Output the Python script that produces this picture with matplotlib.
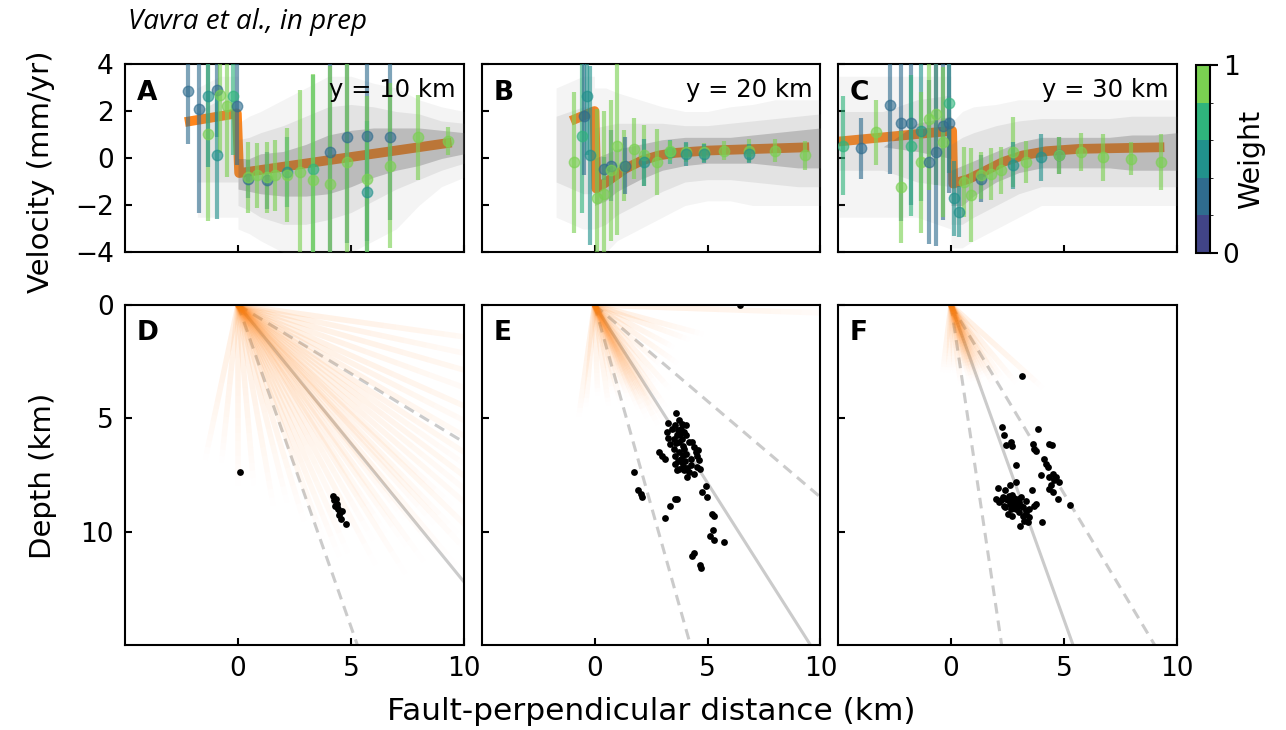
import numpy as np
import matplotlib
matplotlib.use("Agg")
import matplotlib.pyplot as plt
from matplotlib.colors import ListedColormap, BoundaryNorm, to_rgba
from matplotlib.collections import LineCollection
import matplotlib.cm as cm

plt.rcParams['font.family'] = ['DejaVu Sans']

# ---------------- DATA ----------------
profile_labels = ["y = 10 km", "y = 20 km", "y = 30 km"]
top_letters = ["A", "B", "C"]
bottom_letters = ["D", "E", "F"]

# model (best fit) velocity profiles
model_x_A = [-2.35, -0.05, 0.05, 9.45]
model_v_A = [1.55, 1.92, -0.62, 0.68]
model_x_B = [-1.05, 0.0, 0.08, 0.53, 1.37, 2.11, 2.85, 3.58, 5.06, 9.5]
model_v_B = [1.6, 2.02, -1.28, -1.0, -0.43, -0.08, 0.13, 0.24, 0.34, 0.48]
model_x_C = [-5.0, 0.05, 0.1, 0.81, 1.55, 2.29, 3.17, 4.2, 5.68, 9.44]
model_v_C = [0.72, 1.18, -1.07, -0.86, -0.51, -0.15, 0.13, 0.31, 0.41, 0.48]

# binned observations: x, velocity, error, weight
bin_x_A = [-2.20, -1.71, -1.31, -1.31, -0.94, -0.94, -0.80, -0.50, -0.20, -0.06,
           0.46, 0.46, 0.83, 1.27, 1.27, 1.64, 2.15, 2.15, 2.74, 3.33, 3.33,
           4.07, 4.07, 4.81, 4.81, 5.69, 5.69, 5.69, 6.73, 6.73, 7.98, 9.31]
bin_v_A = [2.86, 2.09, 1.04, 2.65, 2.93, 0.13, 2.72, 2.23, 2.65, 2.23,
           -0.86, -0.80, -0.72, -0.93, -0.80, -0.72, -0.58, -0.70, -0.58, -0.44, -0.90,
           0.27, -1.07, 0.90, -0.15, 0.97, -1.42, -0.86, 0.90, -0.30, 0.90, 0.76]
bin_e_A = [2.25, 4.4, 3.7, 3.0, 2.0, 2.7, 2.5, 3.0, 2.5, 2.5,
           0.8, 1.5, 1.4, 1.2, 1.5, 1.5, 1.5, 2.0, 3.5, 4.0, 4.5,
           4.5, 5.0, 4.5, 4.5, 4.5, 3.0, 3.5, 3.5, 3.5, 1.8, 0.6]
bin_w_A = [0.35, 0.35, 0.8, 0.5, 0.35, 0.5, 0.8, 0.8, 0.65, 0.35,
           0.35, 0.8, 0.8, 0.35, 0.8, 0.8, 0.5, 0.8, 0.8, 0.65, 0.8,
           0.35, 0.8, 0.35, 0.8, 0.35, 0.5, 0.8, 0.35, 0.8, 0.8, 0.8]

bin_x_B = [-0.91, -0.55, -0.47, -0.32, -0.18, 0.12, 0.41, 0.41, 0.71, 0.71, 1.0,
           1.30, 1.37, 1.74, 2.18, 2.18, 2.77, 3.36, 3.36, 4.03, 4.03, 4.84, 4.84,
           5.72, 6.83, 6.83, 8.0, 9.33]
bin_v_B = [-0.15, 0.97, 1.81, 2.65, 0.13, -1.70, -0.43, -1.5, -0.30, -0.5, 0.55,
           -0.30, -0.30, 0.41, 0.13, -0.15, -0.15, 0.27, 0.34, 0.27, 0.20, 0.27, 0.20,
           0.34, 0.34, 0.20, 0.34, 0.13]
bin_e_B = [3.0, 3.3, 2.5, 2.5, 3.8, 3.8, 0.5, 3.5, 1.5, 3.0, 3.8,
           1.5, 1.2, 1.3, 1.3, 1.0, 1.4, 0.5, 0.4, 0.4, 0.5, 0.4, 0.4,
           0.4, 0.5, 0.4, 0.5, 0.6]
bin_w_B = [0.8, 0.65, 0.35, 0.5, 0.5, 0.8, 0.35, 0.8, 0.35, 0.8, 0.8,
           0.8, 0.35, 0.8, 0.8, 0.5, 0.8, 0.65, 0.8, 0.8, 0.5, 0.8, 0.5,
           0.8, 0.8, 0.5, 0.8, 0.8]

bin_x_C = [-4.80, -3.98, -3.32, -2.70, -2.21, -2.21, -1.77, -1.77, -1.33, -1.33,
           -0.96, -0.96, -0.66, -0.66, -0.37, -0.37, -0.08, -0.08, 0.15, 0.37,
           0.59, 0.88, 1.33, 1.33, 1.77, 2.21, 2.73, 2.73, 3.32, 3.98, 4.79, 4.79,
           5.75, 6.71, 7.96, 9.29]
bin_v_C = [0.55, 0.43, 1.11, 2.26, 1.53, -1.21, 1.53, 0.55, 1.18, -0.15,
           -0.15, 1.67, 1.88, 0.27, 1.39, 0.69, 2.37, 1.53, -1.70, -2.26,
           -1.0, -1.56, -0.86, -0.72, -0.65, -0.51, 0.27, -0.29, -0.15, 0.06, 0.13, 0.13,
           0.27, 0.06, -0.01, -0.15]
bin_e_C = [2.1, 1.3, 1.4, 2.9, 4.2, 2.4, 3.5, 3.0, 3.0, 3.0,
           3.5, 3.0, 3.0, 4.0, 4.0, 3.2, 3.0, 3.0, 1.6, 1.1,
           1.5, 2.0, 1.0, 1.0, 1.1, 1.0, 1.5, 1.0, 0.9, 1.0, 0.8, 0.8,
           0.8, 1.0, 0.7, 1.2]
bin_w_C = [0.65, 0.35, 0.8, 0.35, 0.35, 0.8, 0.35, 0.65, 0.5, 0.8,
           0.35, 0.8, 0.8, 0.35, 0.35, 0.8, 0.65, 0.35, 0.5, 0.5,
           0.8, 0.8, 0.35, 0.8, 0.8, 0.8, 0.8, 0.5, 0.8, 0.5, 0.35, 0.8,
           0.8, 0.8, 0.8, 0.8]

# raw velocity point cloud, summarised as envelopes (outer / middle / dense core)
cloud_x_A = [-1.8, -0.8, 0.0, 0.0, 0.5, 1, 2, 3, 4, 5, 6, 7, 8, 9, 10]
cloud_olo_A = [-2.5, -2.5, -2.5, -3.0, -3.2, -3.5, -4, -4, -4, -4, -3.5, -3, -2, -1.2, -0.8]
cloud_mlo_A = [-1.0, -1.0, -1.0, -2.0, -2.2, -2.5, -2.8, -2.8, -2.6, -2.3, -1.8, -1.3, -0.9, -0.5, -0.2]
cloud_clo_A = [1.0, 1.0, 1.0, -1.3, -1.4, -1.5, -1.6, -1.6, -1.5, -1.2, -0.8, -0.5, -0.3, 0.0, 0.2]
cloud_chi_A = [1.0, 1.0, 1.0, 0.0, 0.0, 0.2, 0.3, 0.6, 1.0, 1.2, 1.3, 1.3, 1.3, 1.2, 1.1]
cloud_mhi_A = [2.0, 2.5, 2.5, 0.8, 0.9, 1.1, 1.4, 1.8, 2.2, 2.3, 2.2, 2.0, 1.9, 1.6, 1.5]
cloud_ohi_A = [3.0, 3.5, 3.5, 1.5, 1.8, 2.0, 2.5, 3.0, 3.5, 3.5, 3.2, 3.0, 2.5, 2.2, 2.0]

cloud_x_B = [-1.7, -0.5, 0.0, 0.0, 0.5, 1, 2, 3, 4, 5, 6, 7, 8, 9, 10]
cloud_olo_B = [-2.5, -3, -3, -4, -4, -3.5, -3, -2.5, -2, -1.8, -1.8, -2, -2, -2, -2]
cloud_mlo_B = [-1.0, -1.5, -1.5, -3.0, -2.8, -2.4, -1.9, -1.4, -1.0, -0.9, -0.9, -1.0, -1.1, -1.2, -1.2]
cloud_clo_B = [0.5, 0.5, 0.5, -2.0, -1.8, -1.4, -0.9, -0.5, -0.3, -0.2, -0.2, -0.2, -0.3, -0.4, -0.4]
cloud_chi_B = [0.5, 0.5, 0.5, 0.0, 0.2, 0.4, 0.6, 0.8, 0.9, 0.9, 0.9, 1.0, 1.1, 1.2, 1.3]
cloud_mhi_B = [1.8, 2.2, 2.2, 1.3, 1.4, 1.5, 1.5, 1.5, 1.4, 1.4, 1.5, 1.6, 1.7, 1.8, 1.9]
cloud_ohi_B = [3.0, 3.5, 3.5, 3.0, 3.0, 2.8, 2.5, 2.2, 2.0, 2.0, 2.2, 2.3, 2.5, 2.5, 2.5]

cloud_x_C = [-5, -3, -1.5, 0.0, 0.0, 0.5, 1, 2, 3, 4, 5, 6, 7, 8, 9, 10]
cloud_olo_C = [-2.5, -2.5, -2.5, -3, -3.8, -3.8, -3.5, -3, -2.5, -2, -2, -2, -2, -2, -2, -2]
cloud_mlo_C = [-0.5, -0.5, -1.0, -1.2, -2.8, -2.8, -2.5, -2.0, -1.5, -1.2, -1.2, -1.2, -1.2, -1.2, -1.2, -1.2]
cloud_clo_C = [0.5, 0.5, 0.3, 0.0, -2.0, -2.0, -1.6, -1.0, -0.6, -0.4, -0.4, -0.4, -0.4, -0.5, -0.5, -0.5]
cloud_chi_C = [0.5, 0.5, 1.5, 1.8, -0.5, -0.3, -0.1, 0.3, 0.7, 0.9, 0.9, 0.9, 0.9, 1.0, 1.0, 1.1]
cloud_mhi_C = [2.0, 2.0, 2.5, 2.7, 0.6, 0.9, 1.1, 1.4, 1.6, 1.7, 1.7, 1.7, 1.7, 1.8, 1.8, 1.8]
cloud_ohi_C = [3.5, 3.5, 3.5, 3.5, 1.5, 2.0, 2.2, 2.3, 2.5, 2.5, 2.5, 2.5, 2.5, 2.5, 2.5, 2.5]

# fault dip: best / lower / upper (degrees)
dip_best = [50.7, 57.5, 70.2]
dip_lo = [31.2, 40.3, 59.0]
dip_hi = [70.6, 74.2, 81.5]

# posterior fault samples: dip (deg), down-dip length (km)
ray_dip_D = [8, 12, 16, 20, 24, 27, 30, 33, 35, 37, 39, 41, 43, 44, 46, 47, 48, 50, 51,
             52, 54, 55, 57, 58, 60, 62, 64, 66, 68, 70, 73, 76, 80, 85, 90, 96, 102]
ray_len_D = [13, 12, 14, 12, 15, 13, 14, 15, 13, 16, 14, 15, 13, 16, 14, 15, 13, 15, 14,
             12, 14, 13, 12, 14, 12, 13, 11, 12, 12, 11, 10, 9, 9, 8, 8, 7, 7]
ray_dip_E = [2, 15, 20, 28, 35, 42, 48, 52, 55, 57, 59, 60, 61, 62, 63, 64, 65, 66, 67,
             68, 70, 72, 75, 78, 82, 88, 95, 98]
ray_len_E = [11, 5, 4.5, 4, 4.5, 4, 5, 4.5, 5.5, 5, 6, 5, 5.5, 6, 4.5, 5, 5.5, 4.5, 5,
             4, 4.5, 4, 4.5, 4, 4.5, 4, 4.5, 5]
ray_dip_F = [42, 50, 55, 58, 60, 62, 64, 66, 67, 68, 69, 70, 71, 72, 73, 74, 75, 76, 78,
             80, 83, 87, 92, 97]
ray_len_F = [5.5, 4.5, 4, 4, 3.5, 4, 3.5, 3.5, 3, 3.5, 3, 4, 3, 3.5, 3, 3.5, 3, 3.5, 3,
             3, 3.5, 3, 3, 3]

# relocated earthquakes: distance (km), depth (km)
eq_x_D = [0.09, 4.22, 4.34, 4.29, 4.44, 4.51, 4.59, 4.37, 4.54, 4.76, 4.25, 4.40, 4.48]
eq_z_D = [7.35, 8.41, 8.55, 8.85, 9.00, 9.14, 9.11, 8.78, 9.44, 9.66, 8.60, 8.90, 9.25]

eq_x_E = [3.61, 3.26, 3.73, 3.88, 4.03, 3.58, 3.81, 3.44, 3.22, 3.95, 3.66, 4.03, 3.51, 3.88,
          3.26, 3.73, 4.17, 3.36, 4.32, 4.39, 4.47, 3.95, 3.51, 3.73, 2.85, 2.99, 3.14, 4.54,
          4.62, 4.25, 3.88, 3.58, 3.73, 3.95, 4.17, 4.39, 3.66, 4.10, 4.69, 3.81, 4.03, 3.58,
          4.25, 4.54, 3.70, 3.80, 3.90, 4.00, 3.70, 3.90, 4.10, 3.60, 3.90, 4.60,
          1.74, 1.93, 2.04, 2.11, 3.32, 3.58, 3.66, 3.14, 4.76, 4.99, 4.94, 5.18, 5.28, 5.24,
          5.13, 5.28, 5.72, 4.39, 4.32, 4.69, 4.71, 6.46]
eq_z_E = [4.75, 5.19, 5.09, 5.24, 5.31, 5.31, 5.46, 5.46, 5.60, 5.60, 5.75, 5.75, 5.90, 5.90,
          5.87, 6.05, 6.05, 6.12, 6.05, 6.27, 6.49, 6.34, 6.34, 6.49, 6.49, 6.64, 6.78, 6.64,
          6.86, 6.78, 6.93, 7.00, 7.23, 7.30, 7.38, 7.45, 7.30, 7.60, 7.23, 6.78, 6.56, 6.64,
          7.08, 7.15, 5.50, 5.70, 6.60, 6.90, 6.90, 7.10, 7.20, 6.10, 6.20, 6.40,
          7.38, 8.14, 8.33, 8.48, 8.88, 8.58, 8.55, 9.41, 8.26, 8.48, 8.00, 9.22, 9.32, 9.91,
          10.18, 10.35, 10.44, 10.94, 11.09, 11.47, 11.62, 0.0]

eq_x_F = [3.14, 2.24, 2.33, 2.43, 2.65, 2.70, 3.83, 3.61, 3.69, 3.76, 4.35, 4.47, 4.13, 4.20,
          4.27, 2.88, 2.88, 3.98, 4.35, 4.50, 4.65, 4.79, 4.57, 4.42, 4.35, 4.50, 4.72, 5.27,
          3.57, 2.06, 2.39, 2.62, 1.99, 2.14, 2.28, 2.36, 2.43, 2.58, 2.73, 2.65, 2.80, 2.95,
          3.10, 3.02, 3.17, 3.32, 3.46, 3.39, 3.24, 3.05, 3.69, 3.76, 4.01, 2.50, 2.70, 2.88,
          3.32, 3.46, 3.10, 2.50, 2.60, 2.80, 2.90, 3.00, 2.40, 3.20, 3.30, 2.70, 2.20]
eq_z_F = [3.13, 5.38, 5.72, 6.19, 6.05, 6.22, 5.49, 6.12, 6.34, 6.42, 6.12, 6.16, 6.78, 7.00,
          7.15, 7.05, 7.82, 7.52, 7.60, 7.45, 7.60, 7.82, 7.74, 7.96, 8.11, 8.26, 8.58, 8.82,
          8.14, 8.08, 8.16, 7.96, 8.58, 8.70, 8.48, 8.85, 8.55, 8.41, 8.63, 9.00, 8.77, 8.55,
          8.85, 9.14, 9.29, 9.07, 9.37, 9.59, 9.51, 9.73, 8.85, 8.77, 9.56, 9.22, 9.29, 9.00,
          8.63, 9.00, 8.48, 8.60, 8.80, 8.50, 8.90, 8.70, 8.90, 8.90, 9.20, 8.40, 8.60]

weight_ticks = [0, 1]

# ---------------- FIGURE ----------------
W, H = 1286, 730
fig = plt.figure(figsize=(W / 100, H / 100), dpi=100)

def rect(l, t, w, h):
    return [l / W, 1 - (t + h) / H, w / W, h / H]

lefts = [125, 481.5, 838]
axw = 339
top_axes = [fig.add_axes(rect(l, 64.5, axw, 188)) for l in lefts]
bot_axes = [fig.add_axes(rect(l, 305, axw, 340)) for l in lefts]

cmap = ListedColormap(plt.get_cmap('viridis')(np.linspace(0.2, 0.8, 5)))
norm = BoundaryNorm(np.linspace(0, 1, 6), 5)

models = [(model_x_A, model_v_A), (model_x_B, model_v_B), (model_x_C, model_v_C)]
bins = [(bin_x_A, bin_v_A, bin_e_A, bin_w_A), (bin_x_B, bin_v_B, bin_e_B, bin_w_B),
        (bin_x_C, bin_v_C, bin_e_C, bin_w_C)]
clouds = [(cloud_x_A, cloud_olo_A, cloud_mlo_A, cloud_clo_A, cloud_chi_A, cloud_mhi_A, cloud_ohi_A),
          (cloud_x_B, cloud_olo_B, cloud_mlo_B, cloud_clo_B, cloud_chi_B, cloud_mhi_B, cloud_ohi_B),
          (cloud_x_C, cloud_olo_C, cloud_mlo_C, cloud_clo_C, cloud_chi_C, cloud_mhi_C, cloud_ohi_C)]
rays = [(ray_dip_D, ray_len_D), (ray_dip_E, ray_len_E), (ray_dip_F, ray_len_F)]
quakes = [(eq_x_D, eq_z_D), (eq_x_E, eq_z_E), (eq_x_F, eq_z_F)]

tick_kw = dict(direction='in', length=5, width=1.5, labelsize=19, pad=8)

for i, ax in enumerate(top_axes):
    mx, mv = models[i]
    ax.plot(mx, mv, color='#ff7f0e', lw=7, alpha=0.95, zorder=2, solid_capstyle='butt')
    cx, olo, mlo, clo, chi, mhi, ohi = clouds[i]
    ax.fill_between(cx, olo, ohi, color='#888888', alpha=0.09, lw=0, zorder=3)
    ax.fill_between(cx, mlo, mhi, color='#777777', alpha=0.13, lw=0, zorder=3)
    ax.fill_between(cx, clo, chi, color='#555555', alpha=0.28, lw=0, zorder=3)
    bx, bv, be, bw = bins[i]
    for x, v, e, w in zip(bx, bv, be, bw):
        c = cmap(norm(w))
        ax.errorbar(x, v, yerr=e, fmt='o', color=c, ms=7.5, elinewidth=3,
                    alpha=0.62, zorder=4, capsize=0)
    ax.set_xlim(-5, 10)
    ax.set_ylim(-4, 4)
    ax.set_xticks([0, 5, 10])
    ax.set_yticks([-4, -2, 0, 2, 4])
    ax.tick_params(**tick_kw)
    ax.tick_params(labelbottom=False, labelleft=(i == 0))
    for s in ax.spines.values():
        s.set_linewidth(1.5)
    ax.text(0.035, 0.915, top_letters[i], transform=ax.transAxes, fontsize=19,
            fontweight='bold', va='top', ha='left', zorder=6)
    ax.text(0.975, 0.93, profile_labels[i], transform=ax.transAxes, fontsize=17.5,
            va='top', ha='right', zorder=6)

ray_rgb = to_rgba('#ff7f0e')
nseg = 24
for i, ax in enumerate(bot_axes):
    zline = np.array([0.0, 30.0])
    ax.plot(zline / np.tan(np.radians(dip_best[i])), zline, color='#cbcbcb', lw=2.2, zorder=1)
    for d in (dip_lo[i], dip_hi[i]):
        ax.plot(zline / np.tan(np.radians(d)), zline, color='#cbcbcb', lw=2.2,
                ls=(0, (3.5, 2.3)), zorder=1)
    rd, rl = rays[i]
    for d, L in zip(rd, rl):
        t = np.linspace(0, 1, nseg + 1)
        px = L * t * np.cos(np.radians(d))
        pz = L * t * np.sin(np.radians(d))
        segs = np.stack([np.column_stack([px[:-1], pz[:-1]]),
                         np.column_stack([px[1:], pz[1:]])], axis=1)
        tm = 0.5 * (t[:-1] + t[1:])
        alphas = 0.11 * (1 - tm ** 2)
        cols = [(ray_rgb[0], ray_rgb[1], ray_rgb[2], a) for a in alphas]
        ax.add_collection(LineCollection(segs, colors=cols, linewidths=4, zorder=2,
                                         capstyle='butt'))
    qx, qz = quakes[i]
    ax.scatter(qx, qz, s=24, color='black', zorder=5, lw=0)
    ax.set_xlim(-5, 10)
    ax.set_ylim(15, 0)
    ax.set_xticks([0, 5, 10])
    ax.set_yticks([0, 5, 10])
    ax.tick_params(**tick_kw)
    ax.tick_params(labelleft=(i == 0))
    for s in ax.spines.values():
        s.set_linewidth(1.5)
    ax.text(0.035, 0.955, bottom_letters[i], transform=ax.transAxes, fontsize=19,
            fontweight='bold', va='top', ha='left', zorder=6)

fig.text(41 / W, 1 - 172 / H, 'Velocity (mm/yr)', fontsize=21, rotation=90,
         ha='center', va='center')
fig.text(43 / W, 1 - 476 / H, 'Depth (km)', fontsize=21, rotation=90,
         ha='center', va='center')
fig.text(651 / W, 1 - 712 / H, 'Fault-perpendicular distance (km)', fontsize=22.5,
         ha='center', va='center')

cax = fig.add_axes(rect(1195.5, 65, 14, 188))
sm = cm.ScalarMappable(norm=norm, cmap=cmap)
cb = fig.colorbar(sm, cax=cax, ticks=weight_ticks)
cb.set_ticklabels(['0', '1'])
cb.ax.tick_params(labelsize=19, length=6, width=1.5, direction='out')
cb.outline.set_linewidth(1.5)
cb.set_label('Weight', fontsize=20.5, labelpad=-2)

fig.text(128 / W, 1 - 22 / H, 'Vavra et al., in prep', fontsize=20,
         family=['Open Sans', 'DejaVu Sans'], style='italic', ha='left', va='center')

fig.savefig('out.png', dpi=100)
